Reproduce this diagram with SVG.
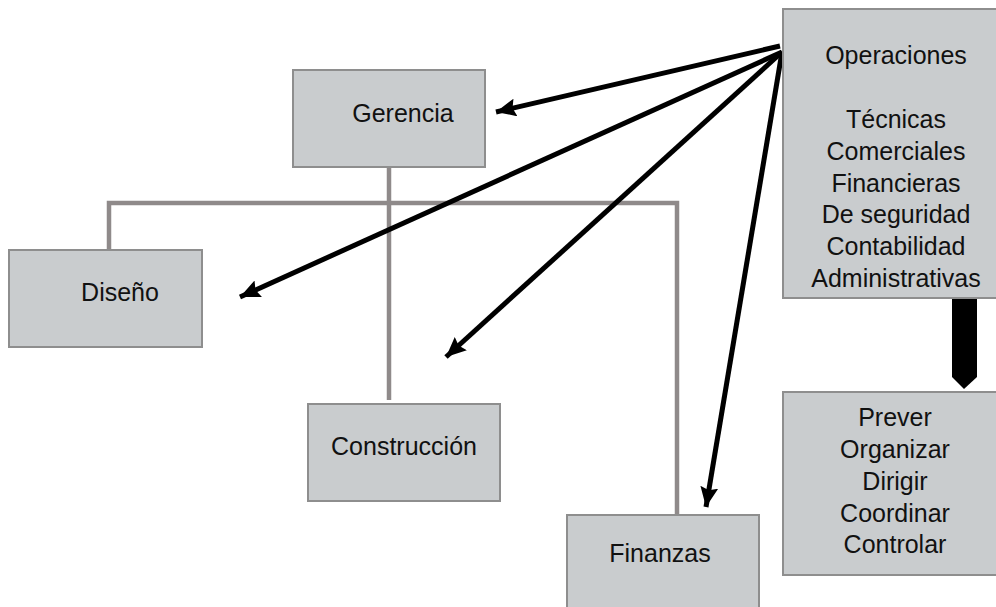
<svg xmlns="http://www.w3.org/2000/svg" width="996" height="607" viewBox="0 0 996 607">
<style>
.box{fill:#c9ccce;stroke:#8e8e8e;stroke-width:2}
.t{font-family:"Liberation Sans",Arial,sans-serif;font-size:25px;fill:#111;text-anchor:middle}
.org{fill:none;stroke:#8f8a8a;stroke-width:4.5}
.arr{fill:none;stroke:#000;stroke-width:5;marker-end:url(#ah)}
</style>
<defs>
<marker id="ah" markerUnits="userSpaceOnUse" markerWidth="22" markerHeight="20" refX="20" refY="9" orient="auto" viewBox="0 0 22 20">
<path d="M0,0 L20,9 L0,18 L3,9 z" fill="#000"/>
</marker>
</defs>
<rect width="996" height="607" fill="#fff"/>
<g id="connectors">
<path class="org" d="M389,167 V400"/>
<path class="org" d="M109,250 V203 H677 V515"/>
<line class="arr" x1="780" y1="46" x2="496" y2="112"/>
<line class="arr" x1="782" y1="52" x2="240" y2="297"/>
<line class="arr" x1="782" y1="52" x2="446" y2="357"/>
<line class="arr" x1="782" y1="52" x2="706" y2="507"/>
<path d="M952,298 H977 V377 L964,389 L952,377 Z" fill="#000"/>
</g>
<g id="gerencia"><rect class="box" x="293" y="70" width="192" height="97"/><text class="t" x="403" y="122">Gerencia</text></g>
<g id="diseno"><rect class="box" x="9" y="250" width="193" height="97"/><text class="t" x="120" y="301">Diseño</text></g>
<g id="construccion"><rect class="box" x="308" y="404" width="192" height="97"/><text class="t" x="404" y="455">Construcción</text></g>
<g id="finanzas"><rect class="box" x="567" y="515" width="192" height="100"/><text class="t" x="660" y="562">Finanzas</text></g>
<g id="operaciones"><rect class="box" x="783" y="9" width="215" height="289"/>
<text class="t" x="896" y="64">Operaciones</text>
<text class="t" x="896" y="128">Técnicas</text>
<text class="t" x="896" y="160">Comerciales</text>
<text class="t" x="896" y="192">Financieras</text>
<text class="t" x="896" y="223">De seguridad</text>
<text class="t" x="896" y="255">Contabilidad</text>
<text class="t" x="896" y="287">Administrativas</text>
</g>
<g id="funciones"><rect class="box" x="783" y="392" width="215" height="183"/>
<text class="t" x="895" y="426">Prever</text>
<text class="t" x="895" y="458">Organizar</text>
<text class="t" x="895" y="490">Dirigir</text>
<text class="t" x="895" y="522">Coordinar</text>
<text class="t" x="895" y="553">Controlar</text>
</g>
</svg>
